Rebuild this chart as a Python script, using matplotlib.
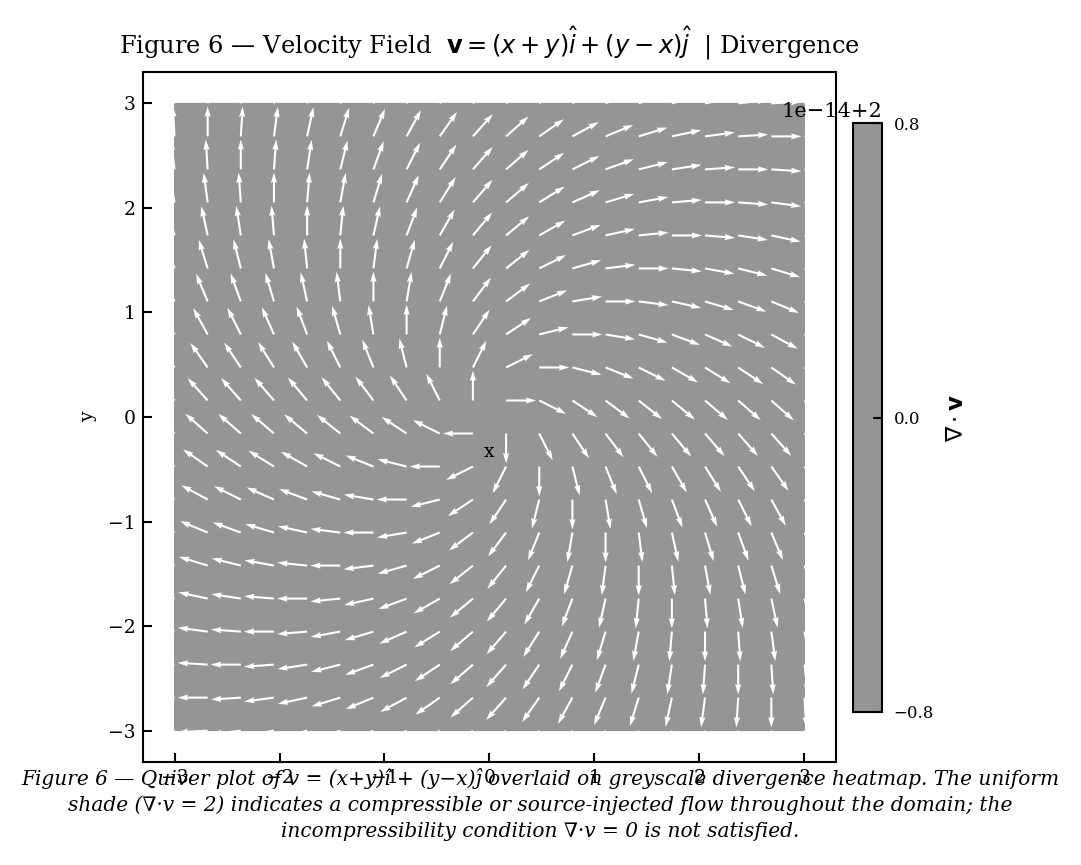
import numpy as np
import matplotlib
matplotlib.use("Agg")
import matplotlib.pyplot as plt
from matplotlib.colors import Normalize, ListedColormap
from matplotlib.cm import ScalarMappable
from matplotlib.ticker import ScalarFormatter

# ---- data ----
grid_coords = np.linspace(-3.0, 3.0, 20)          # 20 x 20 sampling grid
div_value = 2.0                                   # divergence of the field (uniform)
div_min = 2.0 - 8e-15                             # colorbar range
div_max = 2.0 + 8e-15
cbar_ticks = [div_min, div_value, div_max]

def velocity(x, y):
    # v = (x + y) i + (y - x) j, as stated in the title
    return x + y, y - x

X, Y = np.meshgrid(grid_coords, grid_coords)
U, V = velocity(X, Y)
M = np.hypot(U, V)
M[M == 0] = 1.0
Un, Vn = U / M, V / M
D = np.full_like(X, div_value)

plt.rcParams['font.family'] = ['DejaVu Serif', 'DejaVu Sans']
plt.rcParams['mathtext.fontset'] = 'dejavusans'

W, H, DPI = 1081, 865, 150
fig = plt.figure(figsize=(W / DPI, H / DPI), dpi=DPI)

def frac_box(l, t, r, b):
    return [l / W, 1 - b / H, (r - l) / W, (b - t) / H]

ax = fig.add_axes(frac_box(143, 72, 836, 762))
cax = fig.add_axes(frac_box(853, 123, 882, 712))

grey = plt.get_cmap('Greys')(0.5)
cmap = ListedColormap([grey])
norm = Normalize(vmin=div_min, vmax=div_max)
ax.pcolormesh(X, Y, D, cmap=cmap, norm=norm, shading='gouraud')
ax.quiver(X, Y, Un, Vn, color='white', pivot='tail', angles='xy',
          scale_units='xy', scale=3.5)
ax.set_xlim(-3.3, 3.3)
ax.set_ylim(-3.3, 3.3)
ax.set_xticks([-3, -2, -1, 0, 1, 2, 3])
ax.set_yticks([-3, -2, -1, 0, 1, 2, 3])
ax.tick_params(direction='in', labelsize=9, length=4.5, width=1.0)
for s in ax.spines.values():
    s.set_linewidth(1.0)
ax.set_xlabel('x', fontsize=9)
ax.xaxis.set_label_coords(0.5, 0.462)
ax.set_ylabel('y', fontsize=9)
ax.yaxis.set_label_coords(-0.066, 0.5)
ax.set_title(r'Figure 6 — Velocity Field  $\mathbf{v} = (x+y)\hat{i} + (y-x)\hat{j}$  | Divergence',
             fontsize=11.6, pad=9)

# colorbar: deviations from the uniform divergence, shown with the offset text
class ShiftedFormatter(ScalarFormatter):
    def __init__(self, shift):
        super().__init__(useOffset=False)
        self.shift = shift
    def get_offset(self):
        return super().get_offset() + f"{self.shift:+g}"

oom = int(np.floor(np.log10(div_max - div_min)))
fmt = ShiftedFormatter(div_value)
fmt.set_powerlimits((oom, oom))

dev_norm = Normalize(vmin=div_min - div_value, vmax=div_max - div_value)
sm = ScalarMappable(norm=dev_norm, cmap=cmap)
cb = fig.colorbar(sm, cax=cax)
cb.set_ticks([t - div_value for t in cbar_ticks])
cb.ax.yaxis.set_major_formatter(fmt)
cb.ax.tick_params(direction='in', labelsize=8, length=4.5, width=1.0, pad=5.5)
cb.outline.set_linewidth(1.0)
cb.ax.yaxis.get_offset_text().set_fontsize(10)
cb.set_label(r'$\nabla \cdot \mathbf{v}$', fontsize=11, labelpad=6)

caption = ("Figure 6 — Quiver plot of v = (x+y)î + (y−x)ĵ overlaid on greyscale divergence heatmap. The uniform\n"
           "shade (∇·v = 2) indicates a compressible or source-injected flow throughout the domain; the\n"
           "incompressibility condition ∇·v = 0 is not satisfied.")
fig.text(0.5, 1 - 768 / H, caption, ha='center', va='top', fontsize=9.65,
         style='italic', linespacing=1.42)

fig.savefig('out.png', dpi=DPI)
